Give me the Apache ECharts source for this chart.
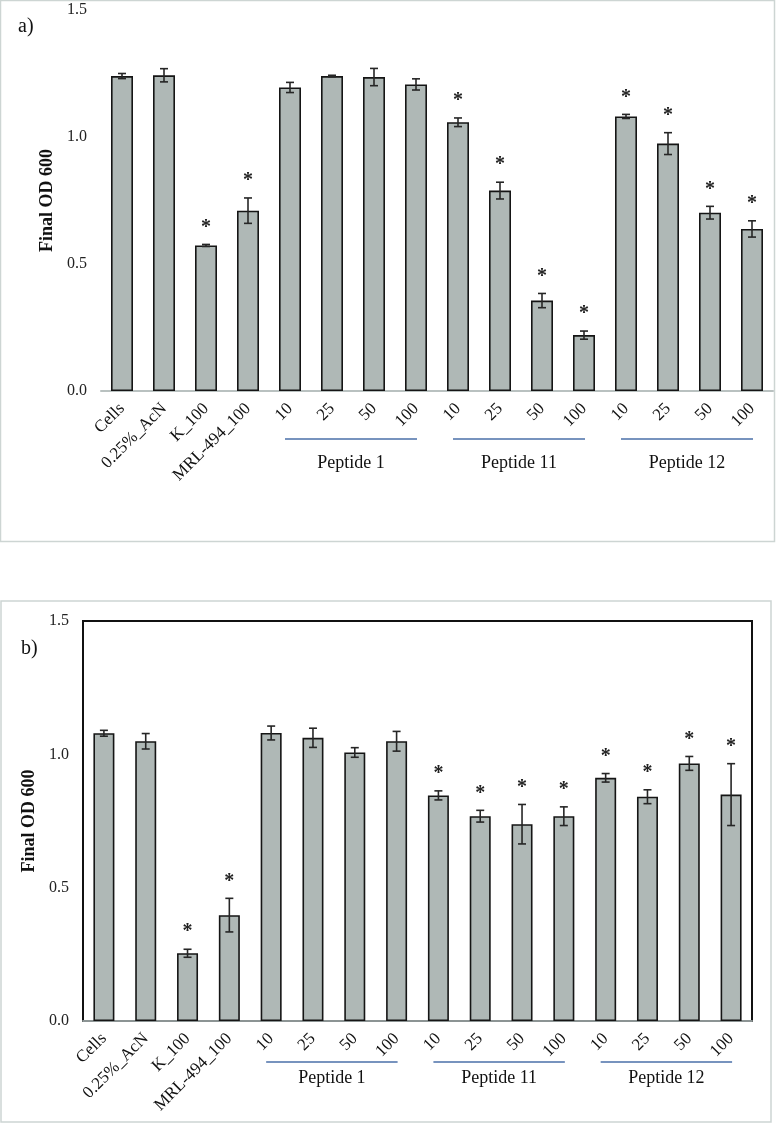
<html>
<head>
    <meta charset="utf-8" />
    <script src="https://cdn.jsdelivr.net/npm/echarts@6/dist/echarts.min.js"></script>
    <style>
        body { margin: 0; background: #fff; }
        #main { width: 776px; height: 1124px; }
    </style>
</head>
<body>
    <div id="main"></div>
    <script>
        // categories on the x axis (same for both panels)
        var categories = ['Cells', '0.25%_AcN', 'K_100', 'MRL-494_100',
            '10', '25', '50', '100', '10', '25', '50', '100', '10', '25', '50', '100']
        // peptide groups: [label, first index, last index]
        var groups = [['Peptide 1', 4, 7], ['Peptide 11', 8, 11], ['Peptide 12', 12, 15]]

        // panel a)
        var valuesA = [1.240, 1.243, 0.573, 0.710, 1.195, 1.240, 1.236, 1.207,
            1.058, 0.789, 0.356, 0.220, 1.081, 0.974, 0.702, 0.638]
        var errorsA = [0.010, 0.026, 0.004, 0.050, 0.020, 0.003, 0.034, 0.022,
            0.017, 0.033, 0.028, 0.016, 0.008, 0.043, 0.025, 0.032]
        var starsA = [0, 0, 1, 1, 0, 0, 0, 0, 1, 1, 1, 1, 1, 1, 1, 1]

        // panel b)
        var valuesB = [1.079, 1.049, 0.254, 0.397, 1.080, 1.062, 1.007, 1.049,
            0.846, 0.768, 0.738, 0.768, 0.912, 0.841, 0.966, 0.849]
        var errorsB = [0.011, 0.029, 0.015, 0.063, 0.026, 0.036, 0.018, 0.037,
            0.017, 0.022, 0.074, 0.035, 0.016, 0.026, 0.026, 0.116]
        var starsB = [0, 0, 1, 1, 0, 0, 0, 0, 1, 1, 1, 1, 1, 1, 1, 1]

        var serif = '"Liberation Serif", "Times New Roman", serif'
        var barColor = '#afb8b6'

        function errData(values, errors, stars) {
            var out = []
            for (var i = 0; i < values.length; i++) {
                out.push([i, values[i], errors[i], stars[i]])
            }
            return out
        }

        function errorItem(params, api) {
            var i = api.value(0), v = api.value(1), e = api.value(2), s = api.value(3)
            var hi = api.coord([i, v + e])
            var lo = api.coord([i, v - e])
            var x = hi[0], w = 4
            var ls = { stroke: '#262626', lineWidth: 1.6 }
            var children = [
                { type: 'line', shape: { x1: x, y1: hi[1], x2: x, y2: lo[1] }, style: ls },
                { type: 'line', shape: { x1: x - w, y1: hi[1], x2: x + w, y2: hi[1] }, style: ls },
                { type: 'line', shape: { x1: x - w, y1: lo[1], x2: x + w, y2: lo[1] }, style: ls }
            ]
            if (s) {
                children.push({
                    type: 'text',
                    style: {
                        text: '*', x: x, y: hi[1] - 17,
                        align: 'center', textAlign: 'center',
                        verticalAlign: 'middle', textVerticalAlign: 'middle',
                        font: 'bold 20px ' + serif, fill: '#222'
                    }
                })
            }
            return { type: 'group', children: children }
        }

        function xAxisOpt(gridIndex, lineColor) {
            return {
                type: 'category',
                gridIndex: gridIndex,
                data: categories,
                axisTick: { show: false },
                axisLine: { lineStyle: { color: lineColor, width: 2 } },
                axisLabel: {
                    interval: 0, rotate: 45, margin: 15,
                    fontFamily: serif, fontSize: 17, color: '#111'
                }
            }
        }

        function yAxisOpt(gridIndex) {
            return {
                type: 'value',
                gridIndex: gridIndex,
                min: 0, max: 1.5, interval: 0.5,
                splitLine: { show: false },
                axisLine: { show: false },
                axisTick: { show: false },
                axisLabel: {
                    margin: 14, fontFamily: serif, fontSize: 16, color: '#222',
                    formatter: function (v) { return v.toFixed(1) }
                },
                name: 'Final OD 600',
                nameLocation: 'middle',
                nameRotate: 90,
                nameGap: 35,
                nameTextStyle: { fontFamily: serif, fontSize: 18, fontWeight: 'bold', color: '#111' }
            }
        }

        var option = {
            animation: false,
            grid: [
                { left: 101, right: 3, top: 10, height: 381 },
                { left: 83, right: 24, top: 621, height: 400, show: true, borderColor: '#111', borderWidth: 2 }
            ],
            xAxis: [xAxisOpt(0, '#b9c1c0'), xAxisOpt(1, '#8c9494')],
            yAxis: [yAxisOpt(0), yAxisOpt(1)],
            series: [
                {
                    type: 'bar', xAxisIndex: 0, yAxisIndex: 0, data: valuesA,
                    barWidth: 22,
                    itemStyle: { color: barColor, borderColor: '#151515', borderWidth: 1.6 }
                },
                {
                    type: 'custom', xAxisIndex: 0, yAxisIndex: 0,
                    data: errData(valuesA, errorsA, starsA),
                    encode: { x: 0, y: 1 }, renderItem: errorItem, z: 3
                },
                {
                    type: 'bar', xAxisIndex: 1, yAxisIndex: 1, data: valuesB,
                    barWidth: 21,
                    itemStyle: { color: barColor, borderColor: '#151515', borderWidth: 1.6 }
                },
                {
                    type: 'custom', xAxisIndex: 1, yAxisIndex: 1,
                    data: errData(valuesB, errorsB, starsB),
                    encode: { x: 0, y: 1 }, renderItem: errorItem, z: 3
                }
            ]
        }

        var chart = echarts.init(document.getElementById('main'))
        chart.setOption(option)

        // panel frames, panel letters, peptide group lines
        var graphics = [
            { type: 'rect', shape: { x: 0.5, y: 0.5, width: 774, height: 541 }, style: { fill: null, stroke: '#cdd5d3', lineWidth: 1.5 }, z: -1 },
            { type: 'rect', shape: { x: 1, y: 601, width: 770, height: 521 }, style: { fill: null, stroke: '#cdd5d3', lineWidth: 1.5 }, z: -1 },
            { type: 'text', style: { text: 'a)', x: 18, y: 27, font: '20px ' + serif, fill: '#111', verticalAlign: 'middle', textVerticalAlign: 'middle' } },
            { type: 'text', style: { text: 'b)', x: 21, y: 649, font: '20px ' + serif, fill: '#111', verticalAlign: 'middle', textVerticalAlign: 'middle' } }
        ]
        var lineOffsets = [[48, 72], [41, 57]]
        for (var g = 0; g < 2; g++) {
            groups.forEach(function (grp) {
                var p1 = chart.convertToPixel({ gridIndex: g }, [grp[1], 0])
                var p2 = chart.convertToPixel({ gridIndex: g }, [grp[2], 0])
                var x1 = p1[0] - 5, x2 = p2[0] + 1
                var ly = p1[1] + lineOffsets[g][0]
                graphics.push({ type: 'line', shape: { x1: x1, y1: ly, x2: x2, y2: ly }, style: { stroke: '#4a6fa8', lineWidth: 1.5 } })
                graphics.push({
                    type: 'text',
                    style: {
                        text: grp[0], x: (x1 + x2) / 2, y: p1[1] + lineOffsets[g][1],
                        align: 'center', textAlign: 'center',
                        verticalAlign: 'middle', textVerticalAlign: 'middle',
                        font: '18px ' + serif, fill: '#111'
                    }
                })
            })
        }
        chart.setOption({ graphic: graphics })
    </script>
</body>
</html>
